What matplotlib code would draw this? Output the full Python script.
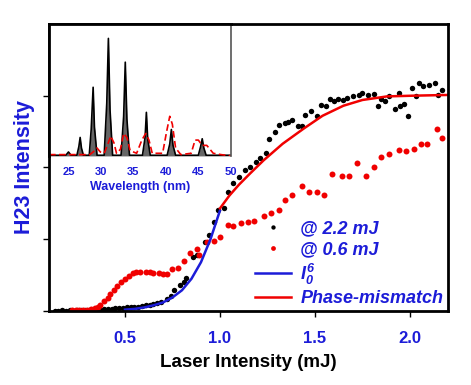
import matplotlib
matplotlib.use('Agg')
import matplotlib.pyplot as plt

plt.rcParams['font.family'] = ['Liberation Sans', 'DejaVu Sans']
plt.rcParams['mathtext.fontset'] = 'custom'
plt.rcParams['mathtext.it'] = 'Liberation Sans:italic:bold'
plt.rcParams['mathtext.rm'] = 'Liberation Sans:italic:bold'

BLUE = '#1c1cd8'
RED = '#f00000'

# H23 signal vs laser intensity, driven at 2.2 mJ
black_x = [0.13, 0.15, 0.17, 0.19, 0.21, 0.23, 0.25, 0.27, 0.29, 0.31,
           0.33, 0.35, 0.37, 0.39, 0.41, 0.43, 0.45, 0.47, 0.49, 0.51,
           0.53, 0.55, 0.57, 0.59, 0.61, 0.63, 0.65, 0.67, 0.69, 0.72,
           0.74, 0.76, 0.79, 0.81, 0.82, 0.86, 0.88, 0.92, 0.94, 0.97,
           0.99, 1.02, 1.04, 1.07, 1.10, 1.13, 1.16, 1.19, 1.21, 1.24,
           1.26, 1.29, 1.31, 1.34, 1.36, 1.38, 1.41, 1.43, 1.45, 1.48,
           1.51, 1.53, 1.56, 1.58, 1.60, 1.62, 1.65, 1.67, 1.70, 1.73,
           1.75, 1.78, 1.81, 1.83, 1.85, 1.87, 1.89, 1.92, 1.94, 1.95,
           1.97, 1.99, 2.01, 2.03, 2.05, 2.07, 2.10, 2.13, 2.15, 2.17]
black_y = [0.00, 0.00, 0.01, 0.00, 0.01, 0.00, 0.01, 0.01, 0.02, 0.01,
           0.02, 0.02, 0.02, 0.03, 0.03, 0.03, 0.04, 0.04, 0.04, 0.05,
           0.05, 0.06, 0.06, 0.07, 0.08, 0.09, 0.10, 0.11, 0.12, 0.17,
           0.21, 0.29, 0.36, 0.40, 0.46, 0.75, 0.78, 0.96, 1.06, 1.24,
           1.41, 1.44, 1.66, 1.79, 1.87, 1.97, 2.00, 2.07, 2.13, 2.20,
           2.40, 2.50, 2.59, 2.62, 2.64, 2.66, 2.58, 2.58, 2.73, 2.78,
           2.72, 2.87, 2.85, 2.96, 2.93, 2.96, 2.94, 2.97, 3.00, 3.01,
           3.04, 3.01, 3.03, 2.86, 2.96, 2.92, 3.00, 2.82, 3.04, 2.85,
           2.89, 2.72, 3.10, 2.99, 3.18, 3.14, 3.15, 3.18, 3.01, 3.08]

# H23 signal, driven at 0.6 mJ
red_x = [0.22, 0.24, 0.26, 0.28, 0.30, 0.32, 0.34, 0.36, 0.37, 0.39,
         0.41, 0.42, 0.44, 0.46, 0.48, 0.50, 0.52, 0.54, 0.56, 0.58,
         0.61, 0.63, 0.65, 0.68, 0.70, 0.72, 0.75, 0.78, 0.81, 0.84,
         0.88, 0.89, 0.93, 0.97, 1.00, 1.04, 1.07, 1.11, 1.15, 1.18,
         1.23, 1.27, 1.31, 1.34, 1.38, 1.43, 1.47, 1.51, 1.55, 1.59,
         1.64, 1.68, 1.72, 1.77, 1.81, 1.85, 1.89, 1.94, 1.98, 2.02,
         2.06, 2.09, 2.14, 2.17]
red_y = [0.01, 0.01, 0.02, 0.02, 0.02, 0.03, 0.04, 0.06, 0.08, 0.14,
         0.18, 0.24, 0.29, 0.35, 0.40, 0.45, 0.49, 0.53, 0.54, 0.55,
         0.54, 0.54, 0.53, 0.53, 0.52, 0.51, 0.59, 0.60, 0.70, 0.81,
         0.87, 0.78, 0.96, 0.98, 1.03, 1.20, 1.19, 1.23, 1.24, 1.26,
         1.32, 1.37, 1.41, 1.55, 1.62, 1.74, 1.66, 1.66, 1.62, 1.91,
         1.88, 1.88, 2.06, 1.88, 2.01, 2.15, 2.19, 2.25, 2.23, 2.26,
         2.32, 2.32, 2.54, 2.41]

# I0^6 curve
i6_x = [0.50, 0.55, 0.60, 0.65, 0.70, 0.75, 0.80, 0.85, 0.90, 0.95, 1.00]
i6_y = [0.02, 0.03, 0.05, 0.08, 0.12, 0.19, 0.29, 0.45, 0.68, 1.00, 1.40]

# phase-mismatch model curve
pm_x = [1.00, 1.05, 1.10, 1.16, 1.23, 1.33, 1.44, 1.54, 1.65, 1.75,
        1.88, 2.02, 2.20]
pm_y = [1.43, 1.61, 1.76, 1.92, 2.10, 2.33, 2.54, 2.72, 2.86, 2.94,
        2.99, 3.00, 3.01]

# inset spectra
spec_k_nm = [22.0, 24.6, 25.0, 25.4, 26.3, 26.6, 26.8, 27.0, 27.3, 28.2,
             28.5, 28.8, 29.0, 29.4, 30.5, 30.9, 31.15, 31.4, 31.8, 33.1,
             33.5, 33.75, 34.0, 34.4, 36.4, 36.8, 37.0, 37.2, 37.6, 40.2,
             40.6, 40.85, 41.1, 41.5, 45.0, 45.35, 45.6, 45.85, 46.2, 50.0]
spec_k = [0.005, 0.005, 0.03, 0.005, 0.005, 0.07, 0.14, 0.06, 0.005, 0.005,
          0.20, 0.52, 0.22, 0.005, 0.005, 0.40, 0.89, 0.35, 0.005, 0.005,
          0.30, 0.71, 0.28, 0.005, 0.005, 0.14, 0.33, 0.13, 0.005, 0.005,
          0.09, 0.20, 0.08, 0.005, 0.005, 0.07, 0.13, 0.06, 0.005, 0.005]
spec_r_nm = [22.0, 27.0, 28.3, 28.8, 29.4, 29.9, 30.5, 31.0, 31.5, 32.0,
             32.4, 33.0, 33.5, 34.0, 34.5, 35.5, 36.3, 36.9, 37.4, 37.9,
             39.5, 40.1, 40.6, 41.0, 41.5, 42.3, 43.9, 44.5, 45.0, 45.6,
             46.3, 47.3, 48.5, 50.0]
spec_r = [0.01, 0.01, 0.01, 0.03, 0.06, 0.03, 0.02, 0.08, 0.15, 0.10,
          0.02, 0.05, 0.17, 0.14, 0.04, 0.02, 0.12, 0.17, 0.12, 0.02,
          0.02, 0.18, 0.30, 0.24, 0.06, 0.01, 0.02, 0.12, 0.12, 0.08,
          0.08, 0.02, 0.01, 0.00]

fig = plt.figure(figsize=(4.71, 3.85), dpi=100)
ax = fig.add_axes([0.104, 0.192, 0.847, 0.746])

ax.plot(black_x, black_y, 'o', color='black', ms=3.9, mec='none',
        label='@ 2.2 mJ')
ax.plot(red_x, red_y, 'o', color=RED, ms=4.3, mec='none',
        label='@ 0.6 mJ')
ax.plot(i6_x, i6_y, '-', color=BLUE, lw=1.8, label='$I_0^6$')
ax.plot(pm_x, pm_y, '-', color=RED, lw=1.8, label='Phase-mismatch')

ax.set_xlim(0.1, 2.2)
ax.set_ylim(0, 4)
ax.set_xticks([0.5, 1.0, 1.5, 2.0])
ax.set_yticks([0, 1, 2, 3])
ax.set_yticklabels([])
ax.tick_params(direction='out', length=4, width=1, pad=10,
               labelsize=12, labelcolor=BLUE)
for lab in ax.get_xticklabels():
    lab.set_fontweight('bold')
for sp in ax.spines.values():
    sp.set_linewidth(2)

ax.set_xlabel('Laser Intensity (mJ)', fontsize=13.5, fontweight='bold',
              labelpad=6)
ax.set_ylabel('H23 Intensity', fontsize=15.5, fontweight='bold', color=BLUE)
ax.yaxis.set_label_coords(-0.034, 0.5)

leg = ax.legend(loc='lower left', bbox_to_anchor=(0.49, -0.025),
                frameon=False, handlelength=2.0, handletextpad=0.5,
                labelspacing=0.2, borderaxespad=0.2, markerscale=0.8,
                prop={'weight': 'bold', 'style': 'italic', 'size': 13})
for t in leg.get_texts():
    t.set_color(BLUE)

# inset spectrum
ins = fig.add_axes([0.104, 0.595, 0.386, 0.343])
ins.fill_between(spec_k_nm, spec_k, 0, color='#666666', lw=0)
ins.plot(spec_k_nm, spec_k, '-', color='black', lw=1.2)
ins.plot(spec_r_nm, spec_r, '--', color=RED, lw=1.2, dashes=(4, 2))
ins.set_xlim(22, 50)
ins.set_ylim(0, 1)
ins.set_xticks([25, 30, 35, 40, 45, 50])
ins.set_yticks([])
ins.tick_params(length=0, pad=8, labelsize=8, labelcolor=BLUE)
for lab in ins.get_xticklabels():
    lab.set_fontweight('bold')
ins.set_xlabel('Wavelength (nm)', fontsize=9, fontweight='bold', color=BLUE,
               labelpad=3)
ins.spines['bottom'].set_visible(False)
ins.spines['left'].set_linewidth(2)
ins.spines['top'].set_linewidth(2)
ins.spines['right'].set_linewidth(1.2)
ins.spines['right'].set_color('#555555')

fig.savefig('out.png', dpi=100)
